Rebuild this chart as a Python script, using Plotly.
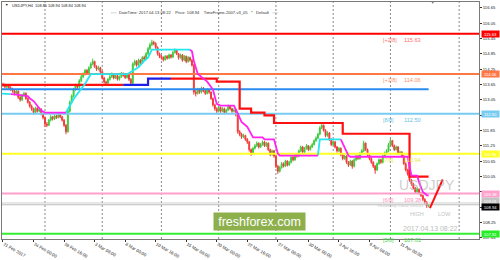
import plotly.graph_objects as go

# ---------------- data ----------------
closes = [
    113.62, 113.55, 113.60, 113.52, 113.48, 113.40, 113.30, 113.38, 113.15, 113.05,
    113.22, 113.30, 113.10, 112.95, 112.80, 112.70, 112.55, 112.72, 112.60, 112.68,
    112.50, 112.35, 112.10, 112.05, 112.25, 112.38, 112.30, 112.42, 112.35, 112.45,
    112.38, 112.25, 112.05, 111.80, 112.60, 112.95, 113.20, 113.45, 113.60, 113.55,
    113.80, 113.95, 114.05, 114.20, 114.10, 114.30, 114.45, 114.55, 114.35, 114.25,
    114.30, 114.15, 113.90, 113.75, 113.70, 113.85, 113.95, 114.05, 113.90, 114.00,
    113.85, 113.95, 114.08, 114.00, 113.92, 114.02, 113.85, 113.70, 114.45, 114.55,
    114.40, 114.60, 114.50, 114.70, 114.65, 114.85, 115.05, 115.20, 115.30, 115.25,
    115.10, 114.85, 114.75, 114.70, 114.62, 114.75, 114.68, 114.80, 114.72, 114.90,
    115.00, 114.85, 114.70, 114.80, 114.60, 114.75, 114.55, 114.70, 114.60, 114.40,
    113.35, 113.30, 113.45, 113.35, 113.50, 113.40, 113.30, 113.45, 113.35, 113.10,
    112.85, 112.70, 112.60, 112.75, 112.60, 112.70, 112.55, 112.65, 112.80, 112.70,
    112.60, 112.65, 112.45, 111.80, 111.70, 111.60, 111.65, 111.50, 111.40, 111.10,
    110.95, 111.15, 111.25, 111.35, 111.20, 111.30, 111.40, 111.25, 111.35, 111.10,
    110.90, 111.05, 110.85, 110.45, 110.25, 110.40, 110.55, 110.45, 110.65, 110.50,
    110.60, 110.80, 110.70, 110.90, 110.85, 111.05, 111.20, 111.00, 111.15, 111.25,
    111.10, 111.20, 111.30, 111.45, 111.55, 111.70, 111.95, 112.05, 111.85, 111.65,
    111.75, 111.50, 111.30, 111.40, 111.20, 111.05, 111.15, 110.90, 110.75, 110.85,
    110.60, 110.50, 110.65, 110.45, 110.70, 110.85, 110.75, 110.95, 111.05, 111.35,
    111.10, 110.90, 110.75, 110.60, 110.45, 110.30, 110.55, 110.70, 110.60, 110.85,
    110.95, 111.05, 111.30, 111.45, 111.25, 111.10, 111.20, 110.95, 111.00, 110.85,
    110.55, 110.30, 110.15, 109.90, 109.75, 109.60, 109.45, 109.55, 109.40, 109.30,
    109.15, 109.05, 108.90, 108.94,
]
highs = [
    113.72, 113.68, 113.66, 113.64, 113.58, 113.52, 113.45, 113.44, 113.42, 113.20,
    113.28, 113.36, 113.34, 113.14, 113.00, 112.86, 112.74, 112.78, 112.76, 112.74,
    112.72, 112.55, 112.40, 112.18, 112.30, 112.45, 112.42, 112.48, 112.46, 112.52,
    112.50, 112.42, 112.30, 112.10, 112.65, 113.02, 113.26, 113.52, 113.68, 113.66,
    113.86, 114.02, 114.12, 114.26, 114.25, 114.36, 114.52, 114.66, 114.58, 114.40,
    114.38, 114.34, 114.18, 113.95, 113.80, 113.90, 114.02, 114.12, 114.08, 114.06,
    114.04, 114.00, 114.14, 114.12, 114.05, 114.08, 114.05, 113.90, 114.52, 114.62,
    114.60, 114.66, 114.64, 114.76, 114.78, 114.92, 115.12, 115.28, 115.40, 115.36,
    115.30, 115.14, 114.90, 114.80, 114.75, 114.80, 114.80, 114.86, 114.84, 114.96,
    115.06, 115.03, 114.88, 114.86, 114.84, 114.80, 114.78, 114.76, 114.74, 114.64,
    114.45, 113.45, 113.52, 113.50, 113.56, 113.55, 113.44, 113.50, 113.48, 113.38,
    113.14, 112.90, 112.76, 112.82, 112.78, 112.76, 112.74, 112.70, 112.86, 112.84,
    112.74, 112.72, 112.68, 112.48, 111.86, 111.76, 111.72, 111.68, 111.55, 111.44,
    111.14, 111.20, 111.32, 111.42, 111.38, 111.36, 111.46, 111.44, 111.40, 111.38,
    111.14, 111.10, 111.08, 110.90, 110.50, 110.46, 110.62, 110.60, 110.70, 110.68,
    110.66, 110.86, 110.84, 110.96, 110.94, 111.10, 111.26, 111.24, 111.20, 111.32,
    111.28, 111.26, 111.36, 111.50, 111.62, 111.76, 112.02, 112.15, 112.08, 111.90,
    111.82, 111.78, 111.54, 111.46, 111.44, 111.24, 111.20, 111.18, 110.94, 110.90,
    110.88, 110.65, 110.70, 110.68, 110.76, 110.90, 110.88, 111.00, 111.12, 111.45,
    111.38, 111.14, 110.94, 110.80, 110.64, 110.50, 110.60, 110.76, 110.74, 110.90,
    111.02, 111.12, 111.36, 111.52, 111.48, 111.30, 111.26, 111.24, 111.06, 111.04,
    110.88, 110.60, 110.35, 110.18, 109.95, 109.80, 109.64, 109.62, 109.58, 109.44,
    109.34, 109.20, 109.08, 108.96,
]
lows = [
    113.55, 113.50, 113.48, 113.45, 113.40, 113.33, 113.22, 113.25, 113.08, 112.98,
    113.00, 113.18, 113.05, 112.90, 112.74, 112.62, 112.48, 112.50, 112.55, 112.56,
    112.44, 112.28, 111.98, 111.98, 112.02, 112.20, 112.24, 112.26, 112.30, 112.32,
    112.33, 112.20, 111.98, 111.70, 111.76, 112.55, 112.90, 113.15, 113.40, 113.48,
    113.50, 113.74, 113.90, 114.00, 114.04, 114.06, 114.26, 114.40, 114.30, 114.18,
    114.20, 114.08, 113.84, 113.68, 113.62, 113.66, 113.80, 113.90, 113.85, 113.86,
    113.80, 113.80, 113.90, 113.95, 113.86, 113.88, 113.78, 113.60, 113.66, 114.38,
    114.34, 114.36, 114.44, 114.46, 114.58, 114.60, 114.80, 115.00, 115.15, 115.18,
    115.04, 114.78, 114.68, 114.62, 114.55, 114.58, 114.62, 114.64, 114.66, 114.68,
    114.86, 114.80, 114.62, 114.66, 114.54, 114.56, 114.48, 114.50, 114.54, 114.35,
    113.25, 113.18, 113.25, 113.28, 113.30, 113.34, 113.24, 113.26, 113.28, 113.04,
    112.78, 112.62, 112.52, 112.55, 112.54, 112.56, 112.48, 112.50, 112.60, 112.64,
    112.54, 112.56, 112.40, 111.72, 111.62, 111.52, 111.55, 111.44, 111.32, 111.02,
    110.85, 110.90, 111.10, 111.20, 111.14, 111.16, 111.25, 111.20, 111.20, 111.04,
    110.84, 110.86, 110.78, 110.38, 110.15, 110.20, 110.35, 110.40, 110.42, 110.44,
    110.46, 110.56, 110.64, 110.66, 110.78, 110.80, 111.00, 110.94, 110.96, 111.10,
    111.04, 111.06, 111.16, 111.26, 111.40, 111.50, 111.66, 111.90, 111.80, 111.58,
    111.60, 111.44, 111.24, 111.26, 111.14, 110.98, 111.00, 110.84, 110.68, 110.70,
    110.54, 110.42, 110.46, 110.35, 110.40, 110.65, 110.70, 110.70, 110.90, 111.00,
    111.04, 110.84, 110.68, 110.54, 110.38, 110.15, 110.26, 110.50, 110.54, 110.56,
    110.80, 110.90, 111.00, 111.26, 111.20, 111.04, 111.06, 110.90, 110.90, 110.80,
    110.50, 110.24, 110.08, 109.84, 109.68, 109.54, 109.38, 109.40, 109.34, 109.24,
    109.08, 108.98, 108.82, 108.84,
]
first_open = 113.65
opens = [first_open] + closes[:-1]
bars = list(range(len(closes)))

x_tick_bars = [0, 16, 32, 48, 64, 80, 96, 112, 128, 144, 160, 176, 192, 208]
x_tick_labels = ["21 Feb 2017", "24 Feb 00:00", "28 Feb 16:00", "3 Mar 08:00",
                 "8 Mar 00:00", "10 Mar 16:00", "15 Mar 08:00", "20 Mar 00:00",
                 "22 Mar 16:00", "27 Mar 08:00", "30 Mar 00:00", "3 Apr 16:00",
                 "6 Apr 08:00", "11 Apr 00:00"]
grid_bars = [22, 52, 83, 113, 143, 173, 203, 239]
price_ticks = [107.65, 108.25, 108.85, 109.45, 110.05, 110.65, 111.25, 111.85,
               112.45, 113.05, 113.65, 114.25, 114.85, 115.45, 116.05, 116.65]
# tick labels that sit under a price box in the reference are not drawn
hidden_ticks = [108.85, 109.45, 112.45]

murrey_levels = [115.63, 114.06, 112.50, 110.94, 109.38, 107.81]
murrey_names = ["[+2/8]", "[+1/8]", "[8/8]", "[7/8]", "[6/8]", "[5/8]"]

trend_level = 113.46
trend_end_bar = 223
yesterday_close = 109.01
bid_price = 108.94

# slow step line (red = down state, blue = up state)
slow_red_a_x = [-1, 63]
slow_red_a_y = [113.63, 113.63]
slow_blue_x = [63, 76, 88]
slow_blue_y = [113.63, 113.88, 113.88]
slow_red_b_x = [88, 112, 124, 130, 137, 142, 178, 213, 223]
slow_red_b_y = [113.88, 113.76, 112.70, 112.55, 112.44, 112.14, 111.72, 110.04, 110.04]

# fast line (cyan = up state, magenta = down state)
fast_up_x = [-1, 2, 4, None, 33, 35, 37, 43, 45, 46, 65, 68, 71, 74, 76, 78, 98,
             None, 165, 166, 177]
fast_up_y = [113.29, 113.29, 113.27, None, 112.55, 112.82, 113.08, 113.68, 113.94,
             114.05, 114.05, 114.20, 114.32, 114.57, 114.70, 115.01, 115.01,
             None, 110.86, 111.50, 111.50]
fast_dn_x = [4, 6, 13, 14, 16, 18, 20, 22, 33, None,
             98, 99, 100, 102, 104, 107, 110, 112, 114, 121, 123, 125, 128, 130,
             131, 136, 137, 142, 144, 145, 165, None,
             177, 179, 181, 182, 212, 214, 217, 218, 220, 222, 223]
fast_dn_y = [113.27, 113.26, 113.19, 113.11, 113.00, 112.82, 112.63, 112.55, 112.55, None,
             115.01, 114.95, 114.57, 114.07, 113.94, 113.76, 113.45, 112.89, 112.82,
             112.82, 112.52, 112.18, 111.99, 111.69, 111.58, 111.58, 111.50, 111.50,
             110.94, 110.86, 110.86, None,
             111.50, 111.20, 110.86, 110.82, 110.82, 110.08, 110.08, 109.82, 109.44,
             109.32, 109.30]

forecast_x = [223.7, 230.4]
forecast_y = [108.81, 109.93]

# ---------------- styles ----------------
X_RANGE = [-0.52, 249.4]
Y_RANGE = [107.60, 116.877]
murrey_colors = ["#FF0000", "#FF7744", "#77CCF2", "#FFFF22", "#FF9FCC", "#33EE33"]
murrey_text_colors = ["#FF6F6F", "#FF8E66", "#66BFEA", "#E8E840", "#FF8FC0", "#3FD83F"]
FONT = "Liberation Sans"

fig = go.Figure()

for gb in grid_bars:
    fig.add_vline(x=gb, line=dict(color="#8a8a8a", width=1, dash="2px,2px"), layer="below")

fig.add_trace(go.Candlestick(
    x=bars, open=opens, high=highs, low=lows, close=closes,
    increasing=dict(line=dict(color="#3DCB3D", width=1), fillcolor="#3DCB3D"),
    decreasing=dict(line=dict(color="#F23A3A", width=1), fillcolor="#F23A3A"),
    whiskerwidth=0, hoverinfo="skip", showlegend=False))

# murrey horizontal levels
for lvl, col in zip(murrey_levels, murrey_colors):
    fig.add_trace(go.Scatter(x=X_RANGE, y=[lvl, lvl], mode="lines",
                             line=dict(color=col, width=2), hoverinfo="skip"))

# yesterday close + bid
fig.add_trace(go.Scatter(x=X_RANGE, y=[yesterday_close] * 2, mode="lines",
                         line=dict(color="#CFCFCF", width=1), hoverinfo="skip"))
fig.add_trace(go.Scatter(x=X_RANGE, y=[bid_price] * 2, mode="lines",
                         line=dict(color="#BDBDBD", width=1), hoverinfo="skip"))

# blue trend level
fig.add_trace(go.Scatter(x=[X_RANGE[0], trend_end_bar], y=[trend_level] * 2, mode="lines",
                         line=dict(color="#2A8CF0", width=2), hoverinfo="skip"))

# slow step line
fig.add_trace(go.Scatter(x=slow_red_a_x, y=slow_red_a_y, mode="lines", line_shape="hv",
                         line=dict(color="#FF1010", width=2.2), hoverinfo="skip"))
fig.add_trace(go.Scatter(x=slow_blue_x, y=slow_blue_y, mode="lines", line_shape="hv",
                         line=dict(color="#1E1EE6", width=2.2), hoverinfo="skip"))
fig.add_trace(go.Scatter(x=slow_red_b_x, y=slow_red_b_y, mode="lines", line_shape="hv",
                         line=dict(color="#FF1010", width=2.2), hoverinfo="skip"))

# fast line
fig.add_trace(go.Scatter(x=fast_up_x, y=fast_up_y, mode="lines",
                         line=dict(color="#22E6F0", width=1.8), hoverinfo="skip", connectgaps=False))
fig.add_trace(go.Scatter(x=fast_dn_x, y=fast_dn_y, mode="lines",
                         line=dict(color="#FF22F0", width=1.8), hoverinfo="skip", connectgaps=False))

# forecast line
fig.add_trace(go.Scatter(x=forecast_x, y=forecast_y, mode="lines",
                         line=dict(color="#FF1010", width=2), hoverinfo="skip"))


def pxx(p):
    return (p - 1) / 478.0


def pxy(p):
    return (249 - p) / 247.0


ann = []
# murrey labels
for lvl, name, tcol in zip(murrey_levels, murrey_names, murrey_text_colors):
    ann.append(dict(x=198, y=lvl, xref="x", yref="y", text=name, showarrow=False,
                    xanchor="left", yanchor="top", yshift=-1,
                    font=dict(family=FONT, size=5.4, color=tcol)))
    ann.append(dict(x=209, y=lvl, xref="x", yref="y", text=f"{lvl:.2f}", showarrow=False,
                    xanchor="left", yanchor="top", yshift=-1,
                    font=dict(family=FONT, size=5.6, color=tcol)))

# price boxes on the right axis
box_prices = murrey_levels[:5] + [yesterday_close, bid_price, murrey_levels[5]]
box_colors = murrey_colors[:5] + ["#C4C4C4", "#000000", "#22EE22"]
box_shift = [0, 0, 0, 0, 0, 1.5, -2.5, 0]
for bp, bc, sh in zip(box_prices, box_colors, box_shift):
    ann.append(dict(x=pxx(481), y=bp, xref="paper", yref="y", text=f"{bp:.2f}",
                    showarrow=False, xanchor="left", yanchor="middle", yshift=sh,
                    width=16, height=5, bgcolor=bc, borderpad=0.5,
                    font=dict(family=FONT, size=4.2, color="white")))

# header texts
ann.append(dict(x=pxx(2), y=pxy(5.5), xref="paper", yref="paper", text="▼",
                showarrow=False, xanchor="left", yanchor="middle",
                font=dict(family=FONT, size=3.5, color="#222")))
ann.append(dict(x=pxx(9), y=pxy(5.5), xref="paper", yref="paper",
                text="USDJPY,H4  108.85 108.94 108.84 108.94",
                showarrow=False, xanchor="left", yanchor="middle",
                font=dict(family=FONT, size=3.9, color="#222")))
ann.append(dict(x=pxx(108), y=pxy(12.5), xref="paper", yref="paper",
                text=":::::  DateTime: 2017.04.13 08:22    Price: 108.94    TimeFrame-2007-v3_05   *   Default   :::::",
                showarrow=False, xanchor="left", yanchor="middle",
                font=dict(family=FONT, size=4.1, color="#333")))
ann.append(dict(x=pxx(432), y=pxy(3.5), xref="paper", yref="paper", text="▼",
                showarrow=False, xanchor="center", yanchor="middle",
                font=dict(family=FONT, size=3.5, color="#777")))

# watermark / info texts
ann.append(dict(x=pxx(427), y=pxy(192.5), xref="paper", yref="paper", text="USDJPY",
                showarrow=False, xanchor="center", yanchor="middle",
                font=dict(family=FONT, size=14, color="rgba(170,170,170,0.6)")))
ann.append(dict(x=pxx(400), y=pxy(214), xref="paper", yref="paper",
                text="Yesterday Close 109.01",
                showarrow=False, xanchor="center", yanchor="middle",
                font=dict(family=FONT, size=4.4, color="#C8C8C8")))
ann.append(dict(x=pxx(417), y=pxy(222.5), xref="paper", yref="paper", text="HIGH",
                showarrow=False, xanchor="center", yanchor="middle",
                font=dict(family=FONT, size=5.5, color="#C4C4C4")))
ann.append(dict(x=pxx(444), y=pxy(222.5), xref="paper", yref="paper", text="LOW",
                showarrow=False, xanchor="center", yanchor="middle",
                font=dict(family=FONT, size=5.5, color="#C4C4C4")))
ann.append(dict(x=pxx(430), y=pxy(238), xref="paper", yref="paper", text="2017.04.13 08:22",
                showarrow=False, xanchor="center", yanchor="middle",
                font=dict(family=FONT, size=7, color="#BDBDBD")))
ann.append(dict(x=pxx(259.5), y=pxy(230.5), xref="paper", yref="paper",
                text="freshforex.com", showarrow=False, xanchor="center", yanchor="middle",
                width=91, height=17, bgcolor="#8DB04D", borderpad=0,
                font=dict(family=FONT, size=12.5, color="white")))

fig.update_layout(
    width=500, height=260,
    margin=dict(l=1, r=21, t=2, b=11),
    paper_bgcolor="white", plot_bgcolor="white",
    showlegend=False, hovermode=False,
    font=dict(family=FONT, size=4.5, color="black"),
    annotations=ann,
)
fig.update_xaxes(range=X_RANGE, tickvals=x_tick_bars, ticktext=x_tick_labels,
                 ticks="outside", ticklen=2, tickcolor="#333", tickwidth=1,
                 ticklabelposition="outside right",
                 tickfont=dict(family=FONT, size=4.4, color="#222"),
                 showgrid=False, zeroline=False, showline=True, mirror=True,
                 linecolor="#7a7a7a", linewidth=1, rangeslider_visible=False)
fig.update_yaxes(range=Y_RANGE, side="right", tickvals=price_ticks,
                 ticktext=["" if t in hidden_ticks else f"{t:.2f}" for t in price_ticks],
                 ticks="outside", ticklen=2, tickcolor="#333", tickwidth=1,
                 tickfont=dict(family=FONT, size=4.2, color="#222"),
                 showgrid=False, zeroline=False, showline=True, mirror=True,
                 linecolor="#7a7a7a", linewidth=1)

fig.write_html("out.html")
